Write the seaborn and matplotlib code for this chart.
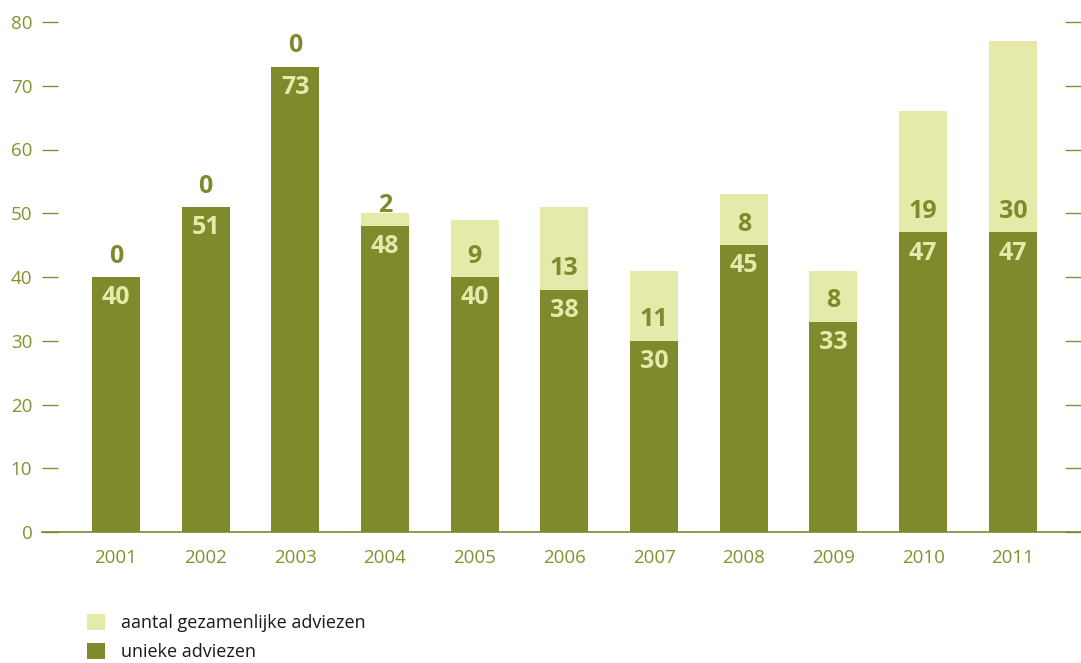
import numpy as np
import matplotlib
matplotlib.use("Agg")
import matplotlib.pyplot as plt
import seaborn as sns
import pandas as pd
from matplotlib.patches import Patch

years = ["2001", "2002", "2003", "2004", "2005", "2006", "2007", "2008", "2009", "2010", "2011"]
unieke = [40, 51, 73, 48, 40, 38, 30, 45, 33, 47, 47]
gezamenlijk = [0, 0, 0, 2, 9, 13, 11, 8, 8, 19, 30]
y_ticks = [0, 10, 20, 30, 40, 50, 60, 70, 80]

DARK = "#80892b"
LIGHT = "#e5eaaa"
TICKCOL = "#86902f"
TEXTCOL = "#1a1a1a"

sns.set_style("white")
plt.rcParams["font.family"] = ["Open Sans", "DejaVu Sans"]

df = pd.DataFrame({"jaar": years, "unieke": unieke, "gezamenlijk": gezamenlijk})
df["totaal"] = df["unieke"] + df["gezamenlijk"]

fig = plt.figure(figsize=(10.81, 6.63), dpi=100)
ax = fig.add_axes([42 / 1081, 131 / 663, 1039 / 1081, 510 / 663])

w = 0.535
sns.barplot(data=df, x="jaar", y="totaal", color=LIGHT, width=w, saturation=1,
            linewidth=0, edgecolor="none", ax=ax)
sns.barplot(data=df, x="jaar", y="unieke", color=DARK, width=w, saturation=1,
            linewidth=0, edgecolor="none", ax=ax)

for i, (u, g) in enumerate(zip(unieke, gezamenlijk)):
    ax.annotate(str(u), (i, u), xytext=(0, -15), textcoords="offset points",
                ha="center", va="center", fontsize=18, fontweight="bold", color=LIGHT)
    ax.annotate(str(g), (i, u), xytext=(0, 15), textcoords="offset points",
                ha="center", va="center", fontsize=18, fontweight="bold", color=DARK)

ax.set_xlim(-0.824, 10.76)
ax.set_ylim(0, 80)
ax.set_yticks(y_ticks)
ax.set_xlabel("")
ax.set_ylabel("")

for s in ["top", "left", "right"]:
    ax.spines[s].set_visible(False)
ax.spines["bottom"].set_color(DARK)
ax.spines["bottom"].set_linewidth(1.2)

ax.tick_params(axis="y", which="both", direction="in", length=11.5, width=1, color=TICKCOL,
               left=True, right=True, labelleft=True, labelright=False,
               labelsize=13.5, labelcolor=TICKCOL, pad=7)
ax.tick_params(axis="x", length=0, labelsize=13.5, labelcolor=TICKCOL, pad=12)
ax.grid(False)

handles = [Patch(facecolor=LIGHT, edgecolor="none", label="aantal gezamenlijke adviezen"),
           Patch(facecolor=DARK, edgecolor="none", label="unieke adviezen")]
fig.legend(handles=handles, loc="lower left", bbox_to_anchor=(71 / 1081, -0.022),
           frameon=False, fontsize=13, labelcolor=TEXTCOL, handlelength=1.0,
           handleheight=1.0, handletextpad=0.85, labelspacing=0.6)

fig.savefig("out.png", dpi=100)
